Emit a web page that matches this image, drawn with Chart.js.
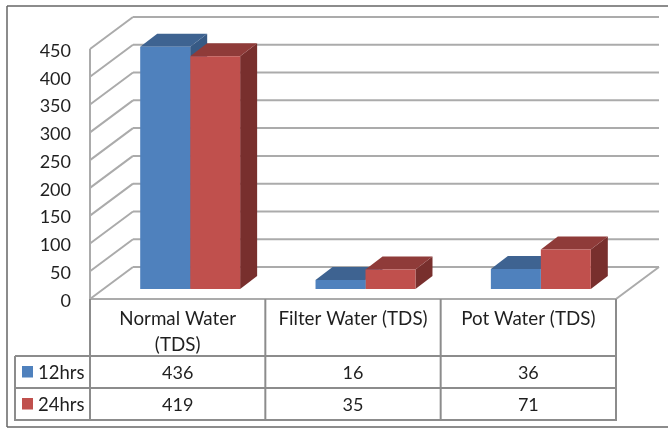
<!DOCTYPE html>
<html>
<head>
<meta charset="utf-8">
<title>Water TDS</title>
<script src="https://cdn.jsdelivr.net/npm/chart.js@4/dist/chart.umd.min.js"></script>
<style>
    html, body { margin: 0; padding: 0; background: #fff; }
    canvas { display: block; }
</style>
</head>
<body>
<canvas id="tdsChart" width="668" height="428"></canvas>
<script>
const categories = [["Normal Water", "(TDS)"], "Filter Water (TDS)", "Pot Water (TDS)"];
const seriesNames = ["12hrs", "24hrs"];
const values12hrs = [436, 16, 36];
const values24hrs = [419, 35, 71];
const axisMax = 450;
const axisStep = 50;

const FONT = "Lato, Carlito, sans-serif";
const TEXT = "#1f1f1f";
const GRID = "#ababab";
const TABLE_LINE = "#8c8c8c";
const FRONT = ["#4f81bd", "#c0504d"];
const TOP = ["#3e6391", "#8f3b39"];
const SIDE = ["#375a85", "#782f2d"];

// wall depth, and how far the bars stand behind the front plane
const WALL = { x: 43, y: -32 };
const BAR_SHIFT = { x: 12.5, y: -10 };
const BAR_DEPTH = { x: 17, y: -13 };

function poly(ctx, color, pts) {
    ctx.fillStyle = color;
    ctx.beginPath();
    pts.forEach((p, i) => (i ? ctx.lineTo(p[0], p[1]) : ctx.moveTo(p[0], p[1])));
    ctx.closePath();
    ctx.fill();
}

function line(ctx, x1, y1, x2, y2) {
    ctx.beginPath();
    ctx.moveTo(x1, y1);
    ctx.lineTo(x2, y2);
    ctx.stroke();
}

function drawWalls(chart) {
    const ctx = chart.ctx;
    const area = chart.chartArea;
    const y = chart.scales.y;
    ctx.save();
    ctx.strokeStyle = GRID;
    ctx.lineWidth = 2;
    y.ticks.forEach(tick => {
        const py = y.getPixelForValue(tick.value);
        line(ctx, area.left, py, area.left + WALL.x, py + WALL.y);
        line(ctx, area.left + WALL.x, py + WALL.y, area.right + WALL.x, py + WALL.y);
    });
    line(ctx, area.right, area.bottom, area.right + WALL.x, area.bottom + WALL.y);
    line(ctx, area.left, area.top, area.left, area.bottom);
    ctx.restore();
}

// side and top faces go first, blue then red, so the red fronts can cover the blue sides
function drawDepthFaces(chart) {
    const ctx = chart.ctx;
    const dx = BAR_DEPTH.x;
    const dy = BAR_DEPTH.y;
    chart.data.datasets.forEach((set, i) => {
        chart.getDatasetMeta(i).data.forEach(bar => {
            const left = bar.x - bar.width / 2;
            const right = bar.x + bar.width / 2;
            poly(ctx, SIDE[i], [[right, bar.y], [right + dx, bar.y + dy], [right + dx, bar.base + dy], [right, bar.base]]);
            poly(ctx, TOP[i], [[left, bar.y], [left + dx, bar.y + dy], [right + dx, bar.y + dy], [right, bar.y]]);
        });
    });
}

const bars3d = {
    id: "bars3d",
    beforeDatasetsDraw(chart) {
        drawWalls(chart);
        chart.ctx.save();
        chart.ctx.translate(BAR_SHIFT.x, BAR_SHIFT.y);
        drawDepthFaces(chart);
    },
    afterDatasetsDraw(chart) {
        chart.ctx.restore();
    }
};

const dataTable = {
    id: "dataTable",
    afterDraw(chart) {
        const ctx = chart.ctx;
        const area = chart.chartArea;
        const colW = (area.right - area.left) / categories.length;
        const rows = [356, 388, 420];
        const keyLeft = 15;
        const rowValues = [values12hrs, values24hrs];
        ctx.save();

        // outer frame of the picture
        ctx.strokeStyle = "#666";
        ctx.lineWidth = 1.5;
        line(ctx, 7, 6, 668, 6);
        line(ctx, 7, 6, 7, 427);
        line(ctx, 7, 427, 668, 427);

        ctx.strokeStyle = TABLE_LINE;
        ctx.lineWidth = 2;
        for (let c = 0; c <= categories.length; c++) {
            line(ctx, area.left + c * colW, area.bottom, area.left + c * colW, rows[2] + 1);
        }
        rows.forEach(r => line(ctx, keyLeft, r, area.right, r));
        line(ctx, keyLeft, rows[0], keyLeft, rows[2] + 1);

        ctx.textBaseline = "middle";
        rowValues.forEach((vals, r) => {
            const cy = (rows[r] + rows[r + 1]) / 2;
            ctx.fillStyle = FRONT[r];
            ctx.fillRect(22, cy - 6, 11, 11.5);
            ctx.fillStyle = TEXT;
            ctx.font = "18.5px " + FONT;
            ctx.textAlign = "left";
            ctx.fillText(seriesNames[r], 38, cy + 1);
            ctx.font = "18px " + FONT;
            ctx.textAlign = "center";
            vals.forEach((v, c) => ctx.fillText(String(v), area.left + (c + 0.5) * colW, cy + 1));
        });
        ctx.restore();
    }
};

new Chart(document.getElementById("tdsChart"), {
    type: "bar",
    data: {
        labels: categories,
        datasets: [
            { label: seriesNames[0], data: values12hrs, backgroundColor: FRONT[0], clip: false },
            { label: seriesNames[1], data: values24hrs, backgroundColor: FRONT[1], clip: false }
        ]
    },
    options: {
        responsive: false,
        animation: false,
        layout: { padding: { top: 49, right: 52, bottom: 0, left: 0 } },
        plugins: { legend: { display: false }, tooltip: { enabled: false } },
        datasets: { bar: { categoryPercentage: 0.57, barPercentage: 1 } },
        scales: {
            x: {
                grid: { display: false, drawTicks: false },
                border: { display: true, color: GRID, width: 2 },
                afterFit(scale) { scale.height = 129; },
                ticks: {
                    color: TEXT,
                    padding: 7,
                    maxRotation: 0,
                    font: { family: FONT, size: 18.8, lineHeight: 1.38 }
                }
            },
            y: {
                min: 0,
                max: axisMax,
                grid: { display: false, drawTicks: false },
                border: { display: false },
                afterFit(scale) { scale.width = 90; },
                ticks: {
                    stepSize: axisStep,
                    color: TEXT,
                    padding: 19,
                    labelOffset: 2,
                    font: { family: FONT, size: 18 }
                }
            }
        }
    },
    plugins: [bars3d, dataTable]
});
</script>
</body>
</html>
